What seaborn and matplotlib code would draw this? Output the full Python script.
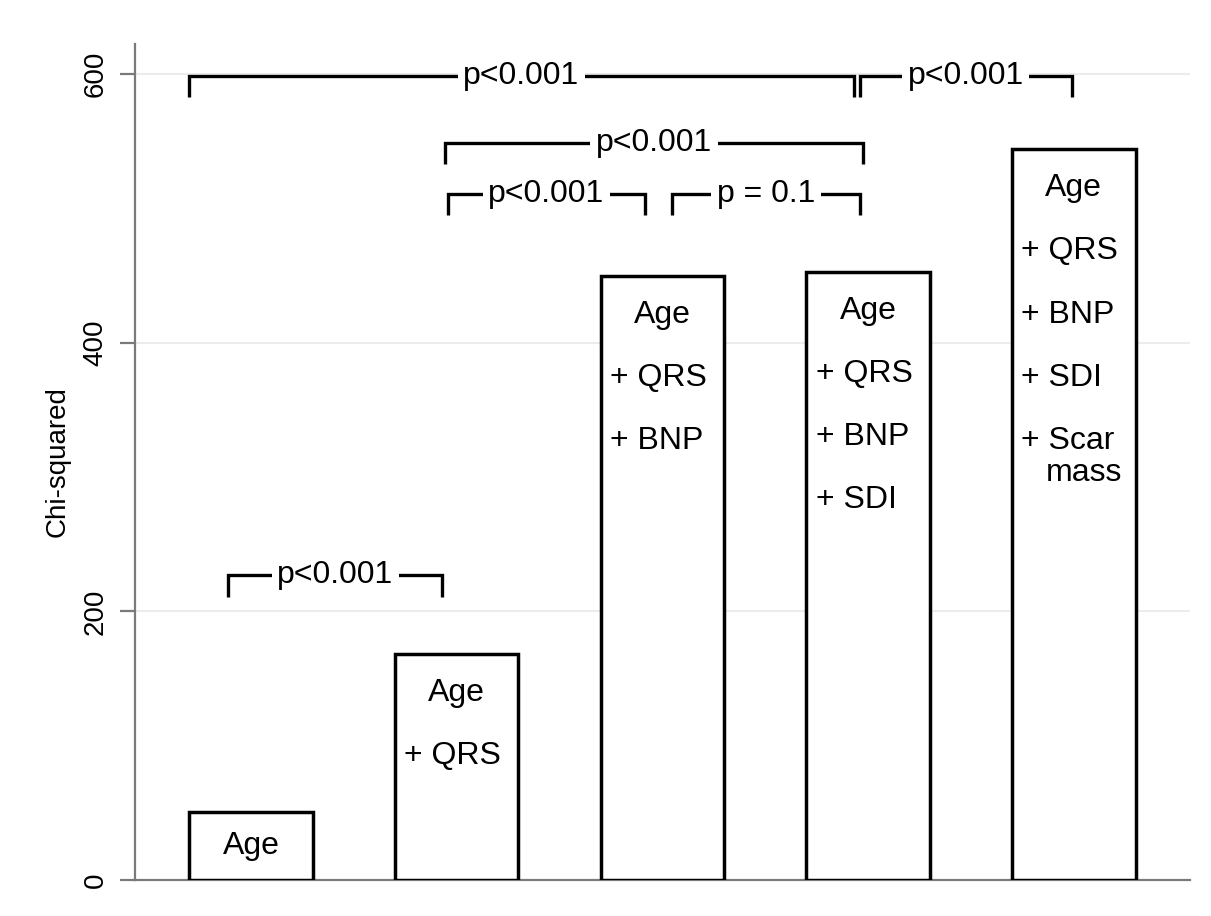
import matplotlib
matplotlib.use("Agg")
import matplotlib.pyplot as plt
import seaborn as sns
import pandas as pd

# ---- data ----
models = ["Age", "Age + QRS", "Age + QRS + BNP", "Age + QRS + BNP + SDI",
          "Age + QRS + BNP + SDI + Scar mass"]
chi_squared = [51, 168, 450, 453, 544]
base_label = ["Age", "Age", "Age", "Age", "Age"]
added_terms = [[], ["QRS"], ["QRS", "BNP"], ["QRS", "BNP", "SDI"],
               ["QRS", "BNP", "SDI", "Scar\nmass"]]
y_ticks = [0, 200, 400, 600]

# comparison brackets: (x start, x end, height, label)
bracket_x1 = [-0.30, 2.96, 0.943, 0.958, 2.047, -0.11]
bracket_x2 = [2.93, 3.99, 2.975, 1.915, 2.96, 0.93]
bracket_y = [599, 599, 549, 511, 511, 227]
bracket_text = ["p<0.001", "p<0.001", "p<0.001", "p<0.001", "p = 0.1", "p<0.001"]

sns.set_theme(style="white")
plt.rcParams["font.family"] = ["Liberation Sans", "DejaVu Sans"]
plt.rcParams["text.color"] = "black"

fig = plt.figure(figsize=(12.11, 9.16), dpi=100)
ax = fig.add_axes([0.1115, 0.0393, 0.8712, 0.9127])

df = pd.DataFrame({"model": models, "chi2": chi_squared})
sns.barplot(data=df, x="model", y="chi2", color="white", edgecolor="black",
            linewidth=2.5, width=0.6, saturation=1, ax=ax, zorder=3)

ax.set_xlim(-0.564, 4.565)
ax.set_ylim(0, 622.5)
ax.set_yticks(y_ticks)
ax.set_yticklabels([str(t) for t in y_ticks], rotation=90, va="center",
                   fontsize=20, color="black")
ax.set_xticks([])
ax.set_xlabel("")
ax.set_ylabel("Chi-squared", fontsize=20, labelpad=9, color="black")

for t in y_ticks[1:]:
    ax.axhline(t, color="#ececec", lw=1.5, zorder=0)

for s in ["top", "right"]:
    ax.spines[s].set_visible(False)
for s in ["left", "bottom"]:
    ax.spines[s].set_color("#7a7a7a")
    ax.spines[s].set_linewidth(1.6)
ax.tick_params(axis="y", which="major", left=True, length=11, width=1.6,
               color="#7a7a7a", pad=8, labelcolor="black")

# bar labels
fs = 23
line_step = 47
for i, (v, base, terms) in enumerate(zip(chi_squared, base_label, added_terms)):
    if not terms:
        ax.text(i, v / 2, base, ha="center", va="center", fontsize=fs, zorder=4)
        continue
    y0 = v - 29
    ax.text(i, y0, base, ha="center", va="center", fontsize=fs, zorder=4)
    for k, term in enumerate(terms):
        parts = term.split("\n")
        yk = y0 - line_step * (k + 1)
        ax.text(i - 0.255, yk, "+ " + parts[0], ha="left", va="center",
                fontsize=fs, zorder=4)
        for j, extra in enumerate(parts[1:]):
            ax.text(i - 0.135, yk - 24 * (j + 1), extra, ha="left",
                    va="center", fontsize=fs, zorder=4)

# brackets
drop = 16
for x1, x2, y, lab in zip(bracket_x1, bracket_x2, bracket_y, bracket_text):
    ax.plot([x1, x1, x2, x2], [y - drop, y, y, y - drop], color="black",
            lw=2.4, solid_capstyle="butt", solid_joinstyle="miter", zorder=4)
    ax.text((x1 + x2) / 2, y, lab, ha="center", va="center", fontsize=23,
            zorder=5,
            bbox=dict(facecolor="white", edgecolor="none", pad=4))

fig.savefig("out.png", dpi=100, facecolor="white")
